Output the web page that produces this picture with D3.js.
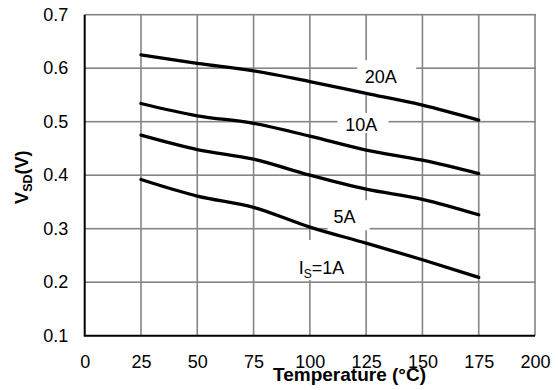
<!DOCTYPE html>
<html>
<head>
<meta charset="utf-8">
<script src="https://cdn.jsdelivr.net/npm/d3@7"></script>
<style>
  body { margin: 0; background: #fff; }
  svg text { font-family: "Liberation Sans", Arial, sans-serif; }
</style>
</head>
<body>
<div id="chart"></div>
<script>
// temperature points (°C) and V_SD curves per source current
const temps = [25, 50, 75, 100, 125, 150, 175];
const v20A = [0.625, 0.609, 0.595, 0.575, 0.553, 0.531, 0.503];
const v10A = [0.534, 0.511, 0.497, 0.473, 0.447, 0.428, 0.403];
const v5A = [0.475, 0.448, 0.430, 0.400, 0.374, 0.355, 0.326];
const v1A = [0.392, 0.361, 0.340, 0.303, 0.273, 0.242, 0.209];

const xTicks = [0, 25, 50, 75, 100, 125, 150, 175, 200];
const yTicks = [0.1, 0.2, 0.3, 0.4, 0.5, 0.6, 0.7];

const seriesValues = [v20A, v10A, v5A, v1A];

const width = 558, height = 390;
const margin = { top: 14.7, right: 23, bottom: 54.3, left: 84.7 };

const svg = d3.select("#chart")
  .append("svg")
  .attr("width", width)
  .attr("height", height);

const x = d3.scaleLinear()
  .domain([0, 200])
  .range([margin.left, width - margin.right]);

const y = d3.scaleLinear()
  .domain([0.1, 0.7])
  .range([height - margin.bottom, margin.top]);

// label positions (data units) and white box extents (px around the label centre)
const labels = [
  { text: "20A", t: 131.5, v: 0.585, box: [-23.5, 35.5, -16, 19] },
  { text: "10A", t: 122.8, v: 0.494, box: [-23.7, 27.3, -12, 8] },
  { text: "5A", t: 115.4, v: 0.322, box: [-17, 25, -16.7, 13.3] },
  { text: "1A", t: 105.2, v: 0.2275, box: [-27, 28, -27.5, 12.5], sub: true }
];

// grid as thin filled bars
const gw = 1.6;
const gridG = svg.append("g").attr("fill", "#858585");

gridG.selectAll("rect.gv")
  .data(xTicks.slice(1))
  .join("rect")
  .attr("class", "gv")
  .attr("x", (d) => x(d) - gw / 2)
  .attr("y", y(0.7) - gw / 2)
  .attr("width", gw)
  .attr("height", y(0.1) - y(0.7) + gw / 2);

gridG.selectAll("rect.gh")
  .data(yTicks.slice(1))
  .join("rect")
  .attr("class", "gh")
  .attr("x", x(0))
  .attr("y", (d) => y(d) - gw / 2)
  .attr("width", x(200) - x(0) + gw / 2)
  .attr("height", gw);

// white boxes that break the grid behind the labels
svg.append("g")
  .selectAll("rect")
  .data(labels)
  .join("rect")
  .attr("x", (d) => x(d.t) + d.box[0])
  .attr("y", (d) => y(d.v) + d.box[2])
  .attr("width", (d) => d.box[1] - d.box[0])
  .attr("height", (d) => d.box[3] - d.box[2])
  .attr("fill", "#fff");

// axes
const xAxis = svg.append("g")
  .attr("transform", `translate(0, ${y(0.1)})`)
  .call(d3.axisBottom(x).tickValues(xTicks).tickSize(0).tickPadding(20).tickFormat(d3.format("d")));
xAxis.select(".domain").remove();
xAxis.selectAll("text")
  .style("font-size", "18px")
  .attr("fill", "#000");

const yAxis = svg.append("g")
  .attr("transform", `translate(${x(0)}, 0)`)
  .call(d3.axisLeft(y).tickValues(yTicks).tickSize(0).tickPadding(16.4).tickFormat(d3.format(".1f")));
yAxis.select(".domain").remove();
yAxis.selectAll("text")
  .style("font-size", "18px")
  .attr("fill", "#000");

svg.append("path")
  .attr("fill", "none")
  .attr("stroke", "#000")
  .attr("stroke-width", 2)
  .attr("d", `M${x(0)},${y(0.7)}V${y(0.1)}H${x(200)}`);

// curves
const curve = d3.line()
  .x((d) => x(d[0]))
  .y((d) => y(d[1]))
  .curve(d3.curveMonotoneX);

svg.append("g")
  .selectAll("path")
  .data(seriesValues)
  .join("path")
  .attr("fill", "none")
  .attr("stroke", "#000")
  .attr("stroke-width", 3.3)
  .attr("stroke-linecap", "round")
  .attr("d", (vals) => curve(temps.map((t, i) => [t, vals[i]])));

// curve labels
const lab = svg.append("g")
  .selectAll("text")
  .data(labels)
  .join("text")
  .attr("x", (d) => x(d.t))
  .attr("y", (d) => y(d.v) + 6.4)
  .attr("text-anchor", "middle")
  .style("font-size", "18px");

lab.each(function (d) {
  const el = d3.select(this);
  if (d.sub) {
    el.append("tspan").text("I");
    el.append("tspan").attr("dy", 4).style("font-size", "12px").text("S");
    el.append("tspan").attr("dy", -4).text("=" + d.text);
  } else {
    el.text(d.text);
  }
});

// axis titles
svg.append("text")
  .attr("x", 349.5)
  .attr("y", 381)
  .attr("text-anchor", "middle")
  .style("font-size", "19px")
  .style("font-weight", "bold")
  .text("Temperature (°C)");

const yTitle = svg.append("text")
  .attr("transform", `translate(28, ${(y(0.1) + y(0.7)) / 2 + 2}) rotate(-90)`)
  .attr("text-anchor", "middle")
  .style("font-size", "18px")
  .style("font-weight", "bold");
yTitle.append("tspan").text("V");
yTitle.append("tspan").attr("dy", 4).style("font-size", "12.5px").text("SD");
yTitle.append("tspan").attr("dy", -4).text("(V)");
</script>
</body>
</html>
